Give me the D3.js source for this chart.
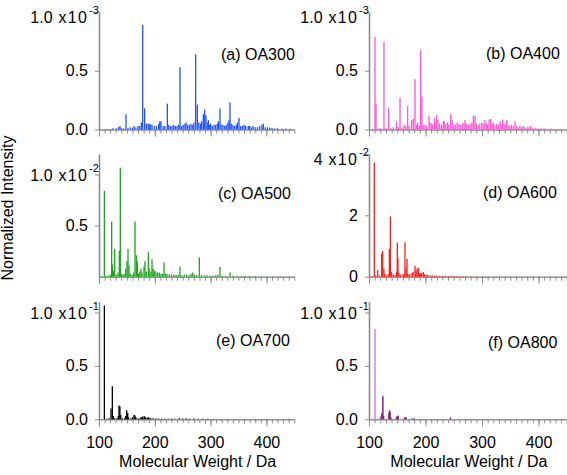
<!DOCTYPE html>
<html><head><meta charset="utf-8">
<script src="https://cdn.jsdelivr.net/npm/d3@7"></script>
<style>
body{margin:0;background:#fff}
svg{display:block;font-family:"Liberation Sans",Arial,Helvetica,sans-serif}
</style>
</head><body>
<svg id="chart" width="567" height="475"></svg>
<script>
// ---------------- DATA (m/z in Da, intensity in units of the panel exponent) ----------------
const massA=[113,120,125,131,135,137.6,140,144,148.4,152,156,160,162.7,166,170,173,176,178.3,181.8,185,188,190,192,195,199,203,207,209,211,215,218,222.5,225,228,231,234,237,240,243,245.2,248,251,254,256,259,262,265,268,270,273.2,276.2,279,282,284,287,289.4,291.8,294,296,298,300,303,306,309,312,314,316.8,319,322,325,328,331,333,334.8,337,340,343,346,348,350.9,354,357,360,363,367.6,370,373,376,380,384,388,392,394.5,398,402,406,410,415,420,428,435,442];
const intA=[0.005,0.005,0.01,0.01,0.02,0.03,0.01,0.01,0.13,0.01,0.02,0.015,0.03,0.02,0.03,0.03,0.06,0.89,0.18,0.05,0.05,0.05,0.045,0.04,0.03,0.03,0.05,0.07,0.07,0.03,0.03,0.22,0.04,0.03,0.03,0.04,0.03,0.03,0.04,0.53,0.03,0.04,0.05,0.06,0.04,0.04,0.05,0.04,0.06,0.64,0.21,0.06,0.05,0.07,0.13,0.17,0.12,0.06,0.08,0.04,0.05,0.03,0.04,0.04,0.05,0.07,0.18,0.04,0.04,0.03,0.04,0.06,0.08,0.23,0.05,0.04,0.03,0.04,0.06,0.10,0.03,0.03,0.04,0.03,0.03,0.03,0.02,0.03,0.02,0.02,0.03,0.04,0.05,0.02,0.02,0.015,0.015,0.01,0.01,0.008,0.008,0.006];

const massB=[103,106,110.6,112.4,116,120,126.5,130,134.8,139,143,149,152,154.9,158,162,165,168.4,171,175.5,178.5,181.4,184,186,189,191.4,193.8,196,199,202,206.2,208,211,213,215.6,217,219.8,222,225,228,231.6,233,236,239,241,244.5,247,250,253,256,259,262,265,268,270,273,276,279,282,284.7,287.6,290,293,296,299.4,302,305,308,310,312.4,315.3,318,320,323,326,329,331.9,334,336.6,339,341,343.7,346,349,352,355,358.4,361,364,367,370,373,376,380,383,386,390,395,400,405,410,416,422,430,438,445];
const intB=[0.005,0.005,0.79,0.22,0.01,0.01,0.75,0.01,0.18,0.01,0.02,0.07,0.02,0.27,0.02,0.04,0.03,0.20,0.03,0.08,0.09,0.43,0.04,0.06,0.03,0.675,0.28,0.04,0.04,0.03,0.12,0.06,0.05,0.04,0.10,0.06,0.125,0.08,0.05,0.04,0.07,0.07,0.05,0.06,0.04,0.13,0.08,0.05,0.04,0.06,0.05,0.04,0.05,0.06,0.08,0.05,0.04,0.05,0.06,0.12,0.115,0.05,0.04,0.05,0.06,0.05,0.08,0.05,0.04,0.085,0.09,0.05,0.06,0.04,0.05,0.04,0.07,0.05,0.085,0.05,0.04,0.08,0.04,0.03,0.04,0.03,0.07,0.03,0.02,0.03,0.02,0.03,0.02,0.02,0.02,0.03,0.015,0.015,0.01,0.01,0.01,0.008,0.008,0.006,0.005,0.005];

const massC=[103,109.6,113,117,120,122.7,124,126,128.1,131,134,136.4,138.2,140,143,145,147.8,150.2,152,153.8,156,159,162,164.5,166.9,168.7,171,173,175.3,177,180.6,182.4,185,188.4,190,193,195,197,199,202,205,208,211,214,216.5,219,222,226,230,234,238,242,245.2,249,253,257,261,265,268,271,275,279.8,284,289,294,299,304,309,313,316.8,321,327,334.8,340,348,355,362,370,380,390,400,412,425,440];
const intC=[0.005,0.84,0.01,0.01,0.02,0.54,0.12,0.06,0.27,0.02,0.04,0.255,1.065,0.03,0.02,0.03,0.08,0.15,0.27,0.11,0.03,0.02,0.04,0.54,0.21,0.15,0.03,0.05,0.08,0.04,0.10,0.15,0.05,0.24,0.08,0.05,0.17,0.08,0.06,0.05,0.04,0.04,0.03,0.03,0.14,0.03,0.03,0.025,0.025,0.02,0.02,0.02,0.10,0.015,0.02,0.02,0.015,0.03,0.04,0.02,0.015,0.19,0.015,0.012,0.015,0.01,0.012,0.015,0.02,0.095,0.01,0.01,0.04,0.01,0.008,0.01,0.006,0.006,0.005,0.005,0.004,0.004,0.003,0.003];

const massD=[103,109.4,112,115.3,118,122.4,124.2,126.5,128,131,134,136,137.8,140,143,146,149,150.1,151.3,153,156,160,162,163.7,165.5,167.3,169,172,176,178,181.4,183,185,187.3,189,191,193.2,196.2,198,201,204,208,212,216,220,225,230,235,240,245,250,255,260,266,272,280,290,300,312,325,340,360,380,400,420,440];
const intD=[0.02,3.72,0.05,0.22,0.04,0.76,0.84,0.26,0.10,0.05,0.08,0.90,1.96,0.15,0.06,0.05,0.16,1.11,0.60,0.12,0.06,0.08,0.10,1.12,0.30,0.58,0.10,0.08,0.12,0.15,0.35,0.20,0.27,0.28,0.10,0.12,0.13,0.15,0.08,0.07,0.06,0.05,0.05,0.04,0.04,0.03,0.03,0.03,0.025,0.03,0.02,0.02,0.02,0.015,0.015,0.012,0.01,0.01,0.008,0.008,0.006,0.005,0.005,0.004,0.004,0.003];

const massE=[109.6,114,118,121.5,123.9,125.5,128,132,134.5,135.8,137.5,139,142,146,148,149.6,151.5,153,157,160,162.7,164.5,166,170,174,176.5,178,181,183,186,188,190,193,197,202,207,212,218,224,230,236,244,250,256,262,270,278,286,295,305,318,330,345,360,380,400,420,440];
const intE=[1.065,0.005,0.01,0.10,0.31,0.03,0.01,0.01,0.03,0.13,0.12,0.04,0.01,0.01,0.03,0.085,0.06,0.02,0.01,0.02,0.04,0.035,0.02,0.01,0.015,0.02,0.025,0.03,0.02,0.015,0.02,0.015,0.01,0.01,0.008,0.008,0.006,0.006,0.006,0.008,0.005,0.01,0.008,0.01,0.006,0.008,0.005,0.005,0.004,0.004,0.003,0.003,0.003,0.002,0.002,0.002,0.002,0.002];

const massF1=[104,110.6,119.5,122.4,124.2,136,149,151.3,163,165,178,190,200,215,230,244.5,258,270,290,310,330,350,370,390,410,430,448];
const intF1=[0.004,0.845,0.02,0.05,0.20,0.07,0.025,0.03,0.015,0.02,0.01,0.008,0.005,0.004,0.005,0.02,0.008,0.004,0.003,0.003,0.003,0.002,0.002,0.002,0.002,0.002,0.002];
const massF2=[121.6,122.8,124.6,126,135.2,136.4,137.5,138.8,148.5,150,151.6,162.5,164.5,166,176,180,244];
const intF2=[0.03,0.06,0.22,0.03,0.06,0.085,0.07,0.02,0.02,0.03,0.035,0.015,0.02,0.015,0.008,0.01,0.015];

const xMajorTicks=[100,200,300,400];
const xTickLabels=["100","200","300","400"];
const yTicks1=[0,0.5,1.0], yLabels1=["0.0","0.5","1.0"];
const yTicksC=[0.5,1.0],  yLabelsC=["0.5","1.0"];
const yTicksD=[0,2,4],    yLabelsD=["0","2","4"];
const panelTitles=["(a) OA300","(b) OA400","(c) OA500","(d) OA600","(e) OA700","(f) OA800"];
const exps=["-3","-3","-2","-2","-1","-1"];

// ---------------- LAYOUT ----------------
const svg=d3.select("#chart");
const AXIS="#8c8c8c";
const L={x0:99,x1:294.3}, R={x0:369,x1:566.8};
const rowA={yb:129.5,yt:12}, rowB={yb:276.7,yt:154}, rowC={yb:419.3,yt:301.7};

const panels=[
 {col:L,row:rowA,max:1.0,ticks:yTicks1,labels:yLabels1,expTick:1.0,series:[[massA,intA,"#2050ff"]],tx:221,ty:60,xl:false},
 {col:R,row:rowA,max:1.0,ticks:yTicks1,labels:yLabels1,expTick:1.0,series:[[massB,intB,"#ff55d0"]],tx:486,ty:59,xl:false},
 {col:L,row:rowB,max:1.2,ticks:yTicksC,labels:yLabelsC,expTick:1.0,series:[[massC,intC,"#1fa51f"]],tx:218,ty:199,xl:false},
 {col:R,row:rowB,max:4,ticks:yTicksD,labels:yLabelsD,expTick:4,series:[[massD,intD,"#ff1c1c"]],tx:483,ty:197.5,xl:false},
 {col:L,row:rowC,max:1.1,ticks:yTicks1,labels:yLabels1,expTick:1.0,series:[[massE,intE,"#000000"]],tx:216,ty:346,xl:true},
 {col:R,row:rowC,max:1.1,ticks:yTicks1,labels:yLabels1,expTick:1.0,series:[[massF1,intF1,"#bb77ee"],[massF2,intF2,"#86246f"]],tx:488,ty:348,xl:true}
];

panels.forEach((p,i)=>{
  const x=d3.scaleLinear().domain([100,450]).range([p.col.x0,p.col.x1]);
  const y=d3.scaleLinear().domain([0,p.max]).range([p.row.yb,p.row.yt]);
  const g=svg.append("g");

  const gMinor=g.append("g").attr("transform",`translate(0,${p.row.yb})`)
    .call(d3.axisBottom(x).tickValues(d3.range(100,451,10)).tickSize(4).tickSizeOuter(0).tickFormat(""));
  const gMajor=g.append("g").attr("transform",`translate(0,${p.row.yb})`)
    .call(d3.axisBottom(x).tickValues(xMajorTicks).tickSize(7).tickSizeOuter(0).tickPadding(10)
      .tickFormat((d,k)=>p.xl?xTickLabels[k]:""));
  [gMinor,gMajor].forEach(a=>{
    a.selectAll(".domain").attr("stroke",AXIS).attr("stroke-width",1);
    a.selectAll(".tick line").attr("stroke",AXIS);
    a.selectAll("text").attr("fill","#000").attr("font-size",16).attr("font-family",null);
  });

  const gy=g.append("g").attr("transform",`translate(${p.col.x0},0)`)
    .call(d3.axisLeft(y).tickValues(p.ticks).tickSize(4).tickSizeOuter(0).tickPadding(7)
      .tickFormat((d,k)=>p.labels[k]));
  gy.selectAll(".domain").attr("stroke",AXIS).attr("stroke-width",1.6);
  gy.selectAll(".tick line").attr("stroke",AXIS);
  gy.selectAll("text").attr("fill","#000").attr("font-size",16).attr("font-family",null);
  gy.selectAll(".tick").filter(d=>d===p.expTick).each(function(d){
    const t=d3.select(this).select("text");
    const lab=t.text();
    const shift=Math.max(1,5.5-(y(d)-p.row.yt));
    t.text("").attr("y",shift);
    t.append("tspan").text(lab);
    t.append("tspan").attr("dx",6).attr("letter-spacing",1.2).text("x10");
    d3.select(this).append("text").attr("x",-10).attr("y",shift-4)
      .attr("font-size",11).attr("fill","#000").attr("text-anchor","start").text(exps[i]);
  });

  p.series.forEach(([ms,vs,col])=>{
    g.append("g").selectAll("line").data(ms.map((m,k)=>[m,vs[k]])).join("line")
      .attr("x1",d=>x(d[0])).attr("x2",d=>x(d[0]))
      .attr("y1",y(0)).attr("y2",d=>y(d[1]))
      .attr("stroke",col).attr("stroke-width",1.3);
  });

  g.append("text").attr("x",p.tx).attr("y",p.ty).attr("font-size",16).attr("fill","#000").text(panelTitles[i]);

  if(p.xl){
    g.append("text").attr("x",(p.col.x0+p.col.x1)/2+1).attr("y",467).attr("text-anchor","middle")
      .attr("font-size",16).attr("fill","#000").text("Molecular Weight / Da");
  }
});

svg.append("text").attr("transform","translate(13,208) rotate(-90)").attr("text-anchor","middle")
  .attr("font-size",16).attr("fill","#000").text("Normalized Intensity");
</script>
</body></html>
